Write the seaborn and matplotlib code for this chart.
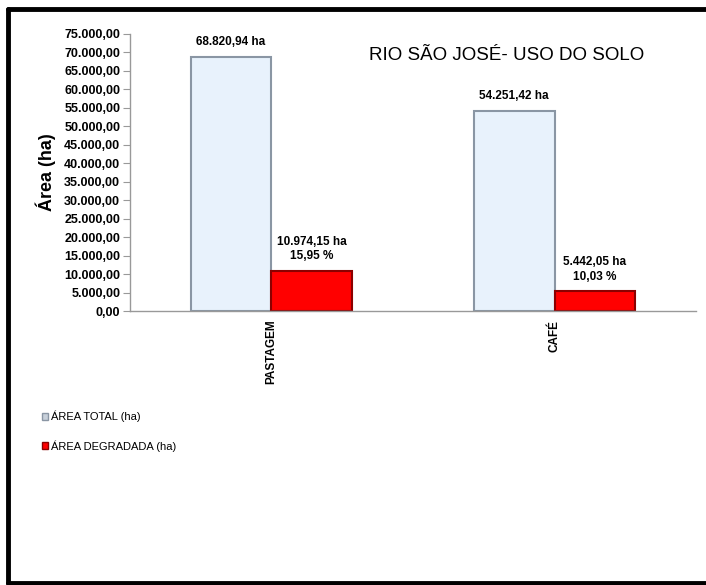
import matplotlib
matplotlib.use('Agg')
import matplotlib.pyplot as plt
import seaborn as sns
import pandas as pd
from matplotlib.patches import Patch
from matplotlib.lines import Line2D

# data
categorias = ['PASTAGEM', 'CAFÉ']
area_total = [68820.94, 54251.42]
area_degradada = [10974.15, 5442.05]
perc_degradada = [15.95, 10.03]
series = ['ÁREA TOTAL (ha)', 'ÁREA DEGRADADA (ha)']
yticks = list(range(0, 75001, 5000))

df = pd.DataFrame({
    'cat': categorias * 2,
    'serie': [series[0]] * 2 + [series[1]] * 2,
    'area': area_total + area_degradada,
})

def br(v, dec=2):
    s = f'{v:,.{dec}f}'
    return s.replace(',', 'X').replace('.', ',').replace('X', '.')

sns.set_style('white')
plt.rcParams['font.family'] = ['Liberation Sans', 'DejaVu Sans']
plt.rcParams['text.color'] = 'black'
plt.rcParams['xtick.color'] = 'black'
plt.rcParams['ytick.color'] = 'black'
plt.rcParams['axes.labelcolor'] = 'black'

fig = plt.figure(figsize=(7.06, 5.85), dpi=100)
ax = fig.add_axes([0.184, 0.468, 0.802, 0.474])

sns.barplot(data=df, x='cat', y='area', hue='serie', ax=ax, saturation=1,
            palette=['#e8f2fc', '#ff0000'], width=0.57, legend=False)
edges = ['#8a96a4', '#8b0000']
for cont, ec in zip(ax.containers, edges):
    for p in cont:
        p.set_edgecolor(ec)
        p.set_linewidth(1.5)

ax.bar_label(ax.containers[0], labels=[br(v) + ' ha' for v in area_total],
             padding=6, fontsize=8.5, fontweight='bold')
ax.bar_label(ax.containers[1],
             labels=[br(v) + ' ha\n' + br(p) + ' %' for v, p in zip(area_degradada, perc_degradada)],
             padding=6, fontsize=8.5, fontweight='bold', linespacing=1.3)

ax.set_ylim(0, 75000)
ax.set_yticks(yticks)
ax.set_yticklabels([br(t) for t in yticks], fontsize=9, fontweight='bold')
ax.set_xlim(-0.5, 1.5)
ax.set_xticks([0, 1])
ax.set_xticklabels(categorias, rotation=90, fontsize=8.5, fontweight='bold')
ax.set_xticks([-0.5, 0.5, 1.5], minor=True)
ax.tick_params(axis='x', which='major', length=0, pad=6)
ax.tick_params(axis='x', which='minor', length=5, color='#999999', direction='out')
ax.tick_params(axis='y', length=5, color='#999999', direction='out', left=True, pad=2)
ax.set_xlabel('')
ax.set_ylabel('Área (ha)', fontsize=13, fontweight='bold', labelpad=6)
for s in ['top', 'right']:
    ax.spines[s].set_visible(False)
for s in ['left', 'bottom']:
    ax.spines[s].set_color('#999999')
    ax.spines[s].set_linewidth(1)

fig.text(0.717, 0.905, 'RIO SÃO JOSÉ- USO DO SOLO', fontsize=13.5, ha='center', va='center')

# legend
handles = [Patch(facecolor='#c8d0da', edgecolor='#8a96a4'),
           Patch(facecolor='#ff0000', edgecolor='#8b0000')]
fig.legend(handles, series, loc='upper left', bbox_to_anchor=(0.045, 0.315),
           frameon=False, fontsize=8, handlelength=0.6, handleheight=0.6,
           handletextpad=0.2, labelspacing=1.6)

# outer frame (left, top, bottom only - right side cut off)
for xs, ys in [([0.012, 0.012], [0.003, 0.985]),
               ([0.012, 1.0], [0.985, 0.985]),
               ([0.012, 1.0], [0.003, 0.003])]:
    fig.add_artist(Line2D(xs, ys, transform=fig.transFigure, color='black', linewidth=3.5))

fig.savefig('out.png', dpi=100)
